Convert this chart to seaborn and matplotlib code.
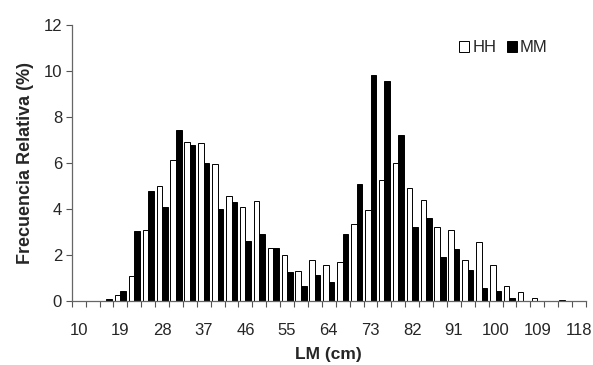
import seaborn as sns
import matplotlib.pyplot as plt
import pandas as pd
import numpy as np

# LM classes (cm), one bar pair per class
lm = [10, 13, 16, 19, 22, 25, 28, 31, 34, 37, 40, 43, 46, 49, 52, 55, 58, 61, 64,
      67, 70, 73, 76, 79, 82, 85, 88, 91, 94, 97, 100, 103, 106, 109, 112, 115, 118]
hh = [0, 0, 0, 0.25, 1.1, 3.1, 5.0, 6.15, 6.9, 6.85, 5.95, 4.55, 4.1, 4.35, 2.3, 2.0, 1.3,
      1.8, 1.55, 1.7, 3.35, 3.95, 5.25, 6.0, 4.9, 4.4, 3.2, 3.1, 1.8, 2.55, 1.55, 0.65,
      0.38, 0.15, 0, 0.05, 0]
mm = [0, 0, 0.1, 0.45, 3.05, 4.8, 4.1, 7.45, 6.8, 6.0, 4.0, 4.3, 2.6, 2.9, 2.3, 1.25, 0.65,
      1.15, 0.85, 2.9, 5.1, 9.8, 9.55, 7.2, 3.2, 3.6, 1.9, 2.25, 1.35, 0.55, 0.45, 0.12,
      0, 0, 0, 0, 0]
tick_labels = ['10', '19', '28', '37', '46', '55', '64', '73', '82', '91', '100', '109', '118']

df = pd.DataFrame({'LM': [str(v) for v in lm] * 2,
                   'freq': hh + mm,
                   'grupo': ['HH'] * len(lm) + ['MM'] * len(lm)})

sns.set_style('ticks')
plt.rcParams['font.family'] = ['Liberation Sans', 'DejaVu Sans']

fig = plt.figure(figsize=(5.93, 3.65), dpi=100)
ax = fig.add_axes([0.121, 0.175, 0.867, 0.757])

sns.barplot(data=df, x='LM', y='freq', hue='grupo', order=[str(v) for v in lm],
            palette={'HH': 'white', 'MM': 'black'}, edgecolor='black', linewidth=0.7,
            width=0.8, ax=ax)

ax.set_xlim(-0.5, len(lm) - 0.5)
ax.set_ylim(0, 12)
ax.set_yticks(range(0, 13, 2))
ax.set_xticks(range(0, len(lm), 3))
ax.set_xticklabels(tick_labels)
ax.set_xticks(np.arange(-0.5, len(lm), 1), minor=True)
ax.tick_params(axis='x', which='major', length=0, labelsize=12, pad=16)
ax.tick_params(axis='x', which='minor', length=4, width=0.8, color='#555555')
ax.tick_params(axis='y', length=4, width=0.8, color='#555555', labelsize=12, pad=3)

for s in ['top', 'right']:
    ax.spines[s].set_visible(False)
for s in ['left', 'bottom']:
    ax.spines[s].set_color('#666666')
    ax.spines[s].set_linewidth(0.9)

ax.set_xlabel('LM (cm)', fontsize=12.5, fontweight='bold', labelpad=6)
ax.set_ylabel('Frecuencia Relativa (%)', fontsize=13, fontweight='bold', labelpad=7)

ax.legend(loc='center', bbox_to_anchor=(0.84, 0.917), ncol=2, frameon=False,
          fontsize=12, handlelength=0.6, handleheight=0.6, handletextpad=0.2,
          columnspacing=0.6, title=None)

fig.savefig('out.png', dpi=100)
